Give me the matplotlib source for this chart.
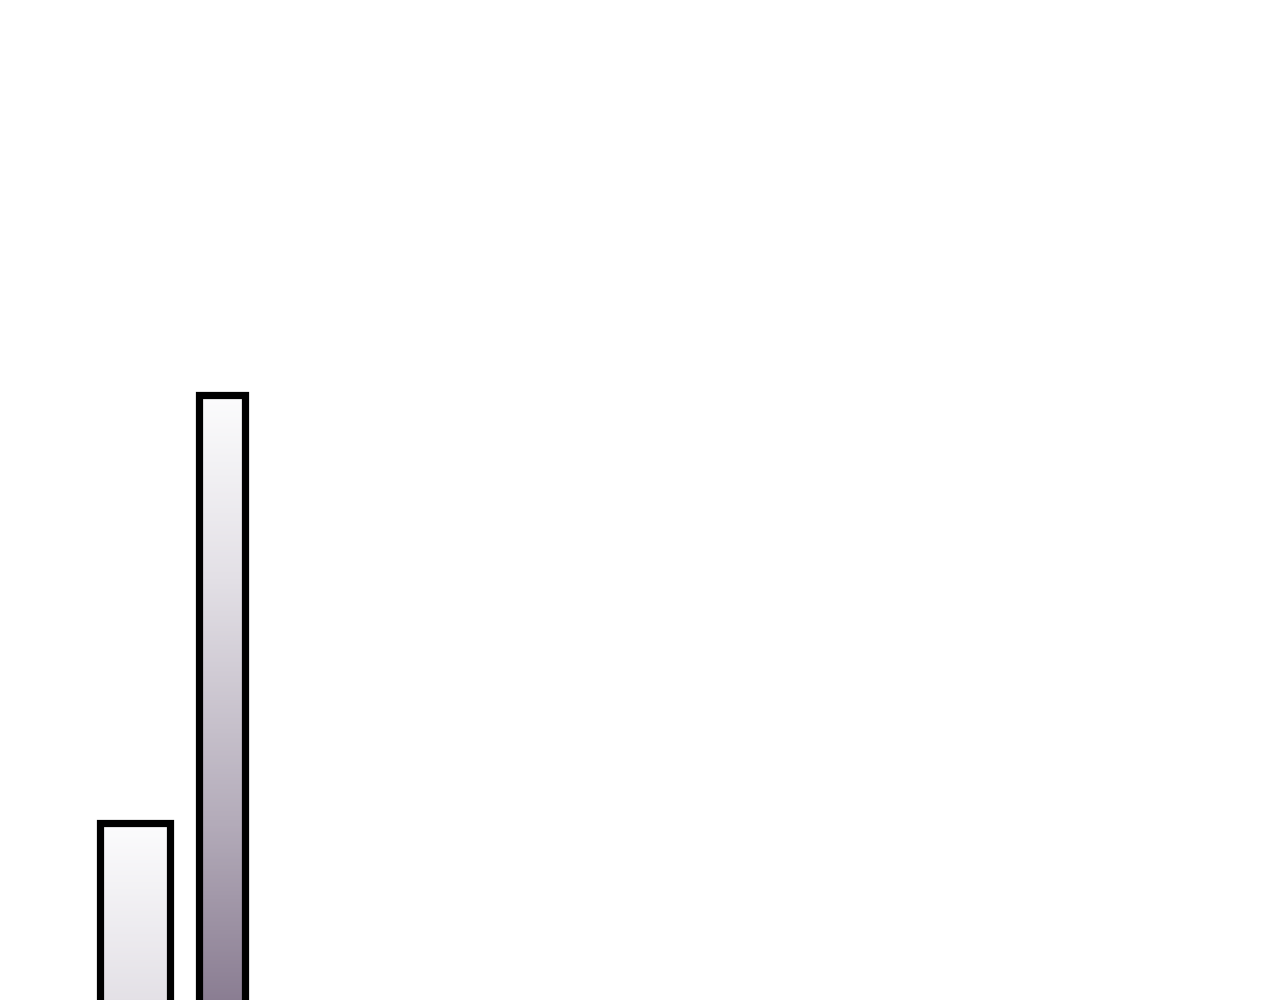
import numpy as np
import matplotlib
matplotlib.use("Agg")
import matplotlib.pyplot as plt
from matplotlib.colors import LinearSegmentedColormap

# bar data (the chart is cropped: only the upper part of two bars is visible)
categories = ["A", "B"]
values = [18.25, 61.0]
bar_centers = [1.345, 2.215]
bar_widths = [0.70, 0.46]

# white at the top of each bar fading to a muted purple-grey
grad_cmap = LinearSegmentedColormap.from_list(
    "fade",
    [(0.0, "#fcfcfd"), (0.30, "#e3e0e6"), (0.70, "#b4acba"), (1.0, "#8a7d92")],
)
GRAD_SPAN = 61.0

fig = plt.figure(figsize=(12.8, 10), dpi=100)
ax = fig.add_axes([0, 0, 1, 1])

bars = ax.bar(bar_centers, values, width=bar_widths, facecolor="none",
              edgecolor="black", linewidth=5.2, zorder=3)

for rect, v in zip(bars, values):
    x0 = rect.get_x()
    x1 = x0 + rect.get_width()
    dist = np.linspace(0, v, 400).reshape(-1, 1)  # distance from bar top
    im = ax.imshow(dist, cmap=grad_cmap, vmin=0, vmax=GRAD_SPAN,
                   extent=[x0, x1, 0, v], origin="upper", aspect="auto",
                   interpolation="bilinear", zorder=2)
    im.set_clip_path(rect)
    rect.set_joinstyle("miter")

ax.set_xlim(0, 12.8)
ax.set_ylim(0.5, 100.5)
ax.axis("off")
fig.savefig("out.png", dpi=100)
